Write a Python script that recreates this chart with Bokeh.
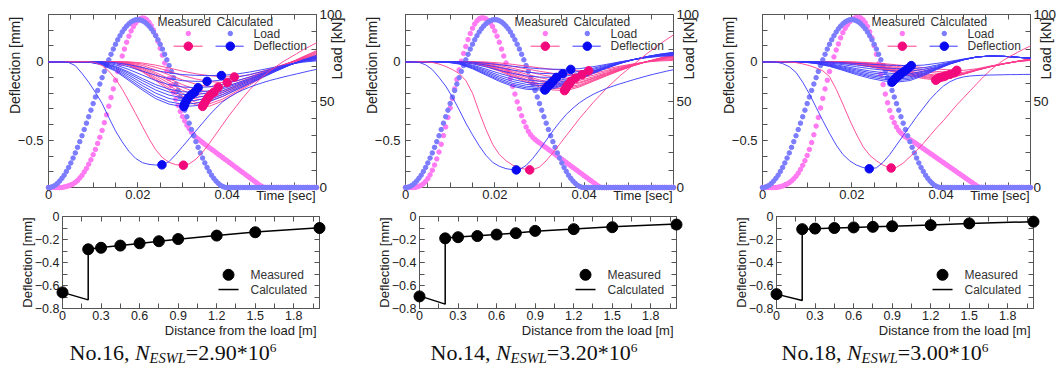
import numpy as np
from bokeh.plotting import figure
from bokeh.models import Range1d, LinearAxis, FixedTicker, Div
from bokeh.layouts import row, column
from bokeh.embed import file_html
from bokeh.resources import INLINE
from bokeh.core.properties import value

# ======================= DATA =======================
# load pulses, sampled every 0.0005 s from t = 0
CALC_LOAD = [0, 0.1, 0.6, 1.3, 2.4, 3.7, 5.3, 7.1, 9.3, 11.6, 14.2, 17.0, 20.0, 23.2, 26.5, 29.9, 33.5, 37.2, 40.9, 44.7,
             48.5, 52.3, 56.1, 59.8, 63.5, 67.1, 70.5, 73.8, 77.0, 80.0, 82.8, 85.4, 87.7, 89.9, 91.7, 93.3, 94.6, 95.7, 96.4, 96.9,
             97.0, 96.9, 96.4, 95.7, 94.6, 93.3, 91.7, 89.9, 87.7, 85.4, 82.8, 80.0, 77.0, 73.8, 70.5, 67.1, 63.5, 59.8, 56.1, 52.3,
             48.5, 44.7, 40.9, 37.2, 33.5, 29.9, 26.5, 23.2, 20.0, 17.0, 14.2, 11.6, 9.3, 7.1, 5.3, 3.7, 2.4, 1.3, 0.6, 0.1,
             0, 0, 0, 0, 0, 0, 0, 0, 0, 0, 0, 0, 0, 0, 0, 0, 0, 0, 0, 0,
             0, 0, 0, 0, 0, 0, 0, 0, 0, 0, 0, 0, 0, 0, 0, 0, 0, 0, 0, 0, 0]
MEAS_LOAD_16 = [0, 0, 0, 0, 0, 0, 0, 0.3, 0.6, 1, 1.5, 2, 3, 4, 5.5, 7, 9, 11, 13.5, 16,
                19, 22, 25.5, 29, 33, 37.5, 42, 47, 52, 57, 62, 67, 71.5, 76, 80, 84, 87.5, 90.5, 93, 95,
                96.5, 97.5, 98, 97.8, 97, 95.5, 93.5, 91, 88, 84.5, 80.5, 76.5, 72, 67.5, 63, 59, 55, 51, 47.5, 44,
                41, 38.5, 36, 34, 32, 30.5, 29, 28, 27, 26, 25, 24, 23, 22.1, 21.2, 20.2, 19.2, 18.3, 17.3, 16.3,
                15.4, 14.4, 13.5, 12.5, 11.5, 10.6, 9.6, 8.7, 7.7, 6.7, 5.8, 4.8, 3.8, 2.9, 1.9, 1.0, 0.3, 0, 0, 0,
                0, 0, 0, 0, 0, 0, 0, 0, 0, 0, 0, 0, 0, 0, 0, 0, 0, 0, 0, 0, 0]
MEAS_LOAD_14 = [0, 0, 0, 0, 0, 0.3, 0.7, 1.3, 2.2, 3.5, 5.2, 7.3, 10, 13, 16.5, 20.5, 25, 30, 35, 40.5,
                46, 51.5, 57, 62.5, 68, 73, 77.5, 81.5, 85.5, 89, 92, 94.5, 96.3, 97.5, 98, 98, 97.5, 96.5, 95, 93,
                90.5, 87.5, 84, 80, 76, 72, 67.5, 63, 58.5, 54, 49.5, 45.5, 41.5, 38, 35, 32.5, 30.5, 29, 27.8, 26.7,
                25.8, 24.9, 23.9, 23, 22, 21.1, 20.1, 19.2, 18.2, 17.3, 16.3, 15.4, 14.4, 13.5, 12.5, 11.6, 10.6, 9.7, 8.7, 7.8,
                6.8, 5.9, 4.9, 4, 3, 2.1, 1.1, 0.3, 0, 0, 0, 0, 0, 0, 0, 0, 0, 0, 0, 0,
                0, 0, 0, 0, 0, 0, 0, 0, 0, 0, 0, 0, 0, 0, 0, 0, 0, 0, 0, 0, 0]
MEAS_LOAD_18 = [0, 0, 0, 0, 0, 0, 0, 0.2, 0.5, 0.9, 1.4, 2, 2.8, 3.8, 5, 6.5, 8.3, 10.4, 12.8, 15.5,
                18.5, 22, 26, 30.5, 35.5, 40.5, 46, 51.5, 57, 62, 67, 71.5, 75.5, 79.5, 83, 86.5, 89.5, 92, 94, 95.7,
                97, 97.8, 98.2, 98.3, 98, 97, 95.3, 93, 90, 86.5, 82, 77, 71.5, 65.5, 59.5, 54, 49, 44.5, 40.5, 37.5,
                35, 33, 31.5, 30.3, 29.3, 28.5, 27.7, 26.9, 26.1, 25.2, 24.3, 23.4, 22.5, 21.6, 20.7, 19.8, 18.9, 18, 17.1, 16.2,
                15.3, 14.4, 13.5, 12.6, 11.7, 10.8, 9.9, 9, 8.1, 7.2, 6.3, 5.4, 4.5, 3.6, 2.7, 1.8, 0.9, 0.2, 0, 0,
                0, 0, 0, 0, 0, 0, 0, 0, 0, 0, 0, 0, 0, 0, 0, 0, 0, 0, 0, 0, 0]

# deflection histories under the load (sensor at 0 m), sampled every 0.0015 s
T_S0 = [0, 0.0015, 0.003, 0.0045, 0.006, 0.0075, 0.009, 0.0105, 0.012, 0.0135, 0.015, 0.0165, 0.018, 0.0195,
        0.021, 0.0225, 0.024, 0.0255, 0.027, 0.0285, 0.03, 0.0315, 0.033, 0.0345, 0.036, 0.0375, 0.039, 0.0405,
        0.042, 0.0435, 0.045, 0.0465, 0.048, 0.0495, 0.051, 0.0525, 0.054, 0.0555, 0.057, 0.0585, 0.06]
S0_CALC_16 = [0, 0, 0, -0.005, -0.025, -0.075, -0.13, -0.195, -0.265, -0.355, -0.44, -0.51, -0.57, -0.615, -0.642,
              -0.653, -0.657, -0.656, -0.635, -0.59, -0.54, -0.49, -0.44, -0.39, -0.34, -0.295, -0.255, -0.225, -0.2,
              -0.18, -0.162, -0.147, -0.133, -0.12, -0.109, -0.098, -0.088, -0.078, -0.068, -0.058, -0.049]
S0_MEAS_16 = [0, 0, 0, 0, 0, 0, 0, -0.005, -0.025, -0.06, -0.11, -0.175, -0.25, -0.33, -0.41, -0.49, -0.56, -0.61,
              -0.64, -0.655, -0.658, -0.65, -0.62, -0.575, -0.52, -0.46, -0.4, -0.34, -0.285, -0.23, -0.18, -0.135,
              -0.095, -0.06, -0.03, 0.0, 0.025, 0.05, 0.075, 0.098, 0.12]
S0_CALC_14 = [0, 0, -0.004, -0.02, -0.05, -0.1, -0.155, -0.225, -0.305, -0.39, -0.465, -0.535, -0.595, -0.64, -0.665,
              -0.68, -0.687, -0.686, -0.66, -0.615, -0.56, -0.5, -0.44, -0.385, -0.335, -0.295, -0.26, -0.232, -0.208,
              -0.188, -0.17, -0.155, -0.141, -0.128, -0.115, -0.103, -0.091, -0.08, -0.07, -0.06, -0.051]
S0_MEAS_14 = [0, 0, 0, 0, -0.005, -0.015, -0.03, -0.05, -0.075, -0.12, -0.2, -0.32, -0.43, -0.525, -0.59, -0.63,
              -0.658, -0.675, -0.685, -0.687, -0.67, -0.63, -0.58, -0.525, -0.47, -0.415, -0.36, -0.31, -0.26, -0.215,
              -0.17, -0.13, -0.09, -0.055, -0.02, 0.015, 0.05, 0.082, 0.113, 0.142, 0.17]
S0_CALC_18 = [0, 0, -0.002, -0.012, -0.032, -0.068, -0.13, -0.205, -0.29, -0.375, -0.455, -0.53, -0.59, -0.63, -0.657,
              -0.673, -0.68, -0.675, -0.64, -0.59, -0.53, -0.47, -0.41, -0.35, -0.295, -0.24, -0.195, -0.155, -0.127,
              -0.108, -0.097, -0.091, -0.088, -0.086, -0.085, -0.084, -0.083, -0.082, -0.082, -0.081, -0.081]
S0_MEAS_18 = [0, 0, 0, 0, -0.002, -0.006, -0.014, -0.025, -0.04, -0.058, -0.095, -0.175, -0.27, -0.37, -0.46, -0.54,
              -0.595, -0.63, -0.658, -0.675, -0.672, -0.645, -0.605, -0.565, -0.52, -0.47, -0.42, -0.375, -0.325,
              -0.275, -0.23, -0.185, -0.14, -0.095, -0.055, -0.02, 0.01, 0.035, 0.058, 0.08, 0.1]

# deflection histories of the other sensors (0.2 ... 2.0 m), sampled every 0.003 s
T_FAN = [0, 0.003, 0.006, 0.009, 0.012, 0.015, 0.018, 0.021, 0.024, 0.027, 0.03, 0.033, 0.036, 0.039, 0.042,
         0.045, 0.048, 0.051, 0.054, 0.057, 0.06]
FAN_CALC_16 = [
    [0, 0, 0, -0.003, -0.02, -0.06, -0.12, -0.18, -0.235, -0.27, -0.285, -0.28, -0.255, -0.22, -0.18, -0.14, -0.1, -0.06, -0.022, 0.012, 0.04],
    [0, 0, 0, -0.002, -0.017, -0.054, -0.11, -0.168, -0.22, -0.255, -0.27, -0.265, -0.242, -0.209, -0.172, -0.134, -0.096, -0.058, -0.022, 0.01, 0.036],
    [0, 0, 0, -0.002, -0.014, -0.047, -0.098, -0.152, -0.2, -0.234, -0.25, -0.247, -0.227, -0.197, -0.162, -0.127, -0.091, -0.055, -0.021, 0.009, 0.032],
    [0, 0, 0, -0.001, -0.011, -0.04, -0.086, -0.136, -0.18, -0.213, -0.229, -0.229, -0.212, -0.185, -0.153, -0.12, -0.086, -0.052, -0.02, 0.008, 0.028],
    [0, 0, 0, -0.001, -0.009, -0.034, -0.075, -0.12, -0.162, -0.193, -0.208, -0.21, -0.197, -0.173, -0.144, -0.113, -0.081, -0.05, -0.019, 0.006, 0.024],
    [0, 0, 0, 0, -0.007, -0.029, -0.066, -0.107, -0.146, -0.175, -0.191, -0.195, -0.185, -0.164, -0.137, -0.108, -0.078, -0.048, -0.019, 0.005, 0.021],
    [0, 0, 0, 0, -0.004, -0.02, -0.05, -0.085, -0.12, -0.146, -0.161, -0.165, -0.16, -0.144, -0.122, -0.098, -0.072, -0.045, -0.018, 0.003, 0.016],
    [0, 0, 0, 0, -0.002, -0.012, -0.033, -0.06, -0.087, -0.108, -0.121, -0.125, -0.125, -0.116, -0.1, -0.082, -0.062, -0.04, -0.017, 0.001, 0.011],
    [0, 0, 0, 0, 0, -0.006, -0.019, -0.037, -0.056, -0.071, -0.082, -0.087, -0.088, -0.087, -0.079, -0.066, -0.05, -0.033, -0.016, -0.003, 0.005],
]
FAN_MEAS_16 = [
    [0, 0, 0, 0, 0, -0.005, -0.025, -0.065, -0.12, -0.18, -0.235, -0.275, -0.283, -0.25, -0.2, -0.148, -0.097, -0.05, -0.008, 0.032, 0.07],
    [0, 0, 0, 0, 0, -0.004, -0.022, -0.06, -0.112, -0.168, -0.22, -0.259, -0.268, -0.238, -0.19, -0.141, -0.093, -0.048, -0.008, 0.029, 0.064],
    [0, 0, 0, 0, 0, -0.003, -0.019, -0.054, -0.102, -0.153, -0.202, -0.238, -0.248, -0.222, -0.178, -0.132, -0.087, -0.045, -0.007, 0.026, 0.058],
    [0, 0, 0, 0, 0, -0.002, -0.016, -0.047, -0.09, -0.137, -0.182, -0.216, -0.229, -0.208, -0.167, -0.124, -0.082, -0.042, -0.007, 0.023, 0.051],
    [0, 0, 0, 0, 0, -0.002, -0.013, -0.04, -0.079, -0.122, -0.163, -0.195, -0.209, -0.194, -0.157, -0.117, -0.077, -0.04, -0.006, 0.021, 0.045],
    [0, 0, 0, 0, 0, -0.001, -0.01, -0.034, -0.069, -0.108, -0.146, -0.177, -0.193, -0.185, -0.151, -0.113, -0.075, -0.039, -0.006, 0.019, 0.04],
    [0, 0, 0, 0, 0, 0, -0.006, -0.024, -0.052, -0.084, -0.116, -0.143, -0.159, -0.161, -0.138, -0.104, -0.07, -0.037, -0.006, 0.015, 0.031],
    [0, 0, 0, 0, 0, 0, -0.003, -0.015, -0.036, -0.061, -0.088, -0.11, -0.126, -0.133, -0.125, -0.097, -0.066, -0.035, -0.006, 0.011, 0.022],
    [0, 0, 0, 0, 0, 0, -0.001, -0.008, -0.022, -0.04, -0.06, -0.077, -0.089, -0.096, -0.096, -0.084, -0.06, -0.033, -0.007, 0.006, 0.012],
]
FAN_CALC_14 = [
    [0, 0, 0, -0.002, -0.015, -0.045, -0.085, -0.125, -0.157, -0.175, -0.18, -0.172, -0.145, -0.11, -0.075, -0.042, -0.012, 0.013, 0.033, 0.048, 0.06],
    [0, 0, 0, -0.002, -0.013, -0.041, -0.079, -0.117, -0.148, -0.166, -0.172, -0.165, -0.14, -0.106, -0.072, -0.04, -0.011, 0.013, 0.032, 0.047, 0.058],
    [0, 0, 0, -0.001, -0.011, -0.037, -0.072, -0.108, -0.138, -0.156, -0.163, -0.158, -0.134, -0.102, -0.069, -0.038, -0.01, 0.013, 0.031, 0.046, 0.056],
    [0, 0, 0, -0.001, -0.009, -0.032, -0.064, -0.098, -0.126, -0.144, -0.152, -0.149, -0.127, -0.097, -0.066, -0.036, -0.009, 0.013, 0.031, 0.045, 0.054],
    [0, 0, 0, 0, -0.007, -0.027, -0.056, -0.087, -0.113, -0.131, -0.14, -0.139, -0.12, -0.092, -0.062, -0.034, -0.008, 0.013, 0.03, 0.043, 0.051],
    [0, 0, 0, 0, -0.005, -0.022, -0.047, -0.074, -0.098, -0.115, -0.124, -0.125, -0.11, -0.085, -0.058, -0.031, -0.007, 0.013, 0.029, 0.041, 0.048],
    [0, 0, 0, 0, -0.003, -0.014, -0.033, -0.055, -0.075, -0.09, -0.098, -0.1, -0.092, -0.073, -0.05, -0.027, -0.005, 0.013, 0.028, 0.039, 0.045],
    [0, 0, 0, 0, -0.001, -0.008, -0.021, -0.037, -0.053, -0.066, -0.074, -0.077, -0.074, -0.061, -0.042, -0.022, -0.003, 0.013, 0.027, 0.037, 0.042],
    [0, 0, 0, 0, 0, -0.003, -0.01, -0.019, -0.029, -0.038, -0.045, -0.048, -0.049, -0.044, -0.032, -0.017, -0.001, 0.013, 0.025, 0.034, 0.038],
]
FAN_MEAS_14 = [
    [0, 0, 0, 0, -0.002, -0.01, -0.03, -0.06, -0.095, -0.13, -0.16, -0.18, -0.184, -0.16, -0.125, -0.09, -0.057, -0.027, 0.0, 0.024, 0.045],
    [0, 0, 0, 0, -0.002, -0.009, -0.027, -0.055, -0.088, -0.121, -0.15, -0.169, -0.174, -0.153, -0.12, -0.086, -0.054, -0.025, 0.0, 0.022, 0.042],
    [0, 0, 0, 0, -0.001, -0.008, -0.024, -0.05, -0.081, -0.112, -0.14, -0.159, -0.164, -0.146, -0.115, -0.083, -0.052, -0.024, 0.0, 0.021, 0.039],
    [0, 0, 0, 0, -0.001, -0.006, -0.02, -0.044, -0.072, -0.1, -0.126, -0.144, -0.15, -0.136, -0.108, -0.078, -0.049, -0.022, 0.0, 0.019, 0.035],
    [0, 0, 0, 0, 0, -0.005, -0.017, -0.038, -0.064, -0.091, -0.116, -0.133, -0.14, -0.13, -0.104, -0.075, -0.047, -0.021, 0.0, 0.017, 0.031],
    [0, 0, 0, 0, 0, -0.004, -0.014, -0.032, -0.055, -0.079, -0.101, -0.118, -0.125, -0.119, -0.097, -0.07, -0.044, -0.02, 0.0, 0.015, 0.027],
    [0, 0, 0, 0, 0, -0.002, -0.009, -0.024, -0.042, -0.062, -0.081, -0.096, -0.104, -0.104, -0.087, -0.063, -0.04, -0.018, 0.0, 0.012, 0.021],
    [0, 0, 0, 0, 0, -0.001, -0.005, -0.016, -0.03, -0.046, -0.061, -0.074, -0.081, -0.083, -0.075, -0.056, -0.035, -0.016, -0.001, 0.009, 0.015],
    [0, 0, 0, 0, 0, 0, -0.002, -0.008, -0.017, -0.028, -0.039, -0.049, -0.055, -0.058, -0.058, -0.046, -0.029, -0.014, -0.002, 0.005, 0.008],
]
FAN_CALC_18 = [
    [0, 0, 0, -0.002, -0.012, -0.03, -0.055, -0.082, -0.105, -0.122, -0.13, -0.12, -0.09, -0.05, -0.015, 0.012, 0.03, 0.036, 0.034, 0.028, 0.022],
    [0, 0, 0, -0.002, -0.011, -0.027, -0.05, -0.075, -0.096, -0.112, -0.12, -0.112, -0.084, -0.047, -0.014, 0.012, 0.03, 0.036, 0.034, 0.028, 0.022],
    [0, 0, 0, -0.001, -0.009, -0.024, -0.045, -0.068, -0.088, -0.102, -0.11, -0.104, -0.078, -0.044, -0.013, 0.012, 0.03, 0.036, 0.034, 0.028, 0.022],
    [0, 0, 0, -0.001, -0.008, -0.021, -0.04, -0.06, -0.079, -0.093, -0.1, -0.096, -0.073, -0.041, -0.012, 0.012, 0.03, 0.036, 0.034, 0.028, 0.022],
    [0, 0, 0, 0, -0.006, -0.017, -0.034, -0.052, -0.069, -0.081, -0.088, -0.086, -0.066, -0.037, -0.01, 0.013, 0.03, 0.036, 0.034, 0.028, 0.022],
    [0, 0, 0, 0, -0.004, -0.013, -0.028, -0.044, -0.059, -0.07, -0.077, -0.077, -0.06, -0.034, -0.009, 0.013, 0.03, 0.036, 0.034, 0.028, 0.022],
    [0, 0, 0, 0, -0.002, -0.008, -0.019, -0.032, -0.044, -0.054, -0.059, -0.06, -0.05, -0.028, -0.006, 0.014, 0.03, 0.036, 0.034, 0.028, 0.022],
    [0, 0, 0, 0, -0.001, -0.005, -0.012, -0.021, -0.031, -0.039, -0.044, -0.045, -0.039, -0.022, -0.003, 0.015, 0.03, 0.036, 0.034, 0.028, 0.022],
    [0, 0, 0, 0, 0, -0.002, -0.006, -0.011, -0.016, -0.021, -0.024, -0.025, -0.022, -0.011, 0.002, 0.017, 0.03, 0.036, 0.034, 0.028, 0.022],
]
FAN_MEAS_18 = [
    [0, 0, 0, 0, 0, -0.002, -0.008, -0.018, -0.032, -0.05, -0.07, -0.09, -0.107, -0.117, -0.105, -0.08, -0.055, -0.033, -0.014, 0.002, 0.018],
    [0, 0, 0, 0, 0, -0.002, -0.007, -0.016, -0.029, -0.046, -0.065, -0.084, -0.1, -0.111, -0.102, -0.079, -0.054, -0.032, -0.014, 0.002, 0.017],
    [0, 0, 0, 0, 0, -0.001, -0.006, -0.014, -0.026, -0.042, -0.06, -0.078, -0.094, -0.105, -0.099, -0.078, -0.053, -0.032, -0.014, 0.002, 0.016],
    [0, 0, 0, 0, 0, -0.001, -0.005, -0.012, -0.023, -0.038, -0.055, -0.072, -0.088, -0.098, -0.096, -0.077, -0.052, -0.031, -0.013, 0.002, 0.015],
    [0, 0, 0, 0, 0, 0, -0.004, -0.01, -0.02, -0.034, -0.05, -0.066, -0.081, -0.092, -0.094, -0.078, -0.052, -0.031, -0.013, 0.002, 0.014],
    [0, 0, 0, 0, 0, 0, -0.003, -0.008, -0.017, -0.03, -0.045, -0.06, -0.075, -0.086, -0.089, -0.077, -0.052, -0.031, -0.013, 0.002, 0.013],
    [0, 0, 0, 0, 0, 0, -0.002, -0.006, -0.013, -0.024, -0.037, -0.05, -0.063, -0.073, -0.079, -0.075, -0.052, -0.031, -0.013, 0.001, 0.011],
    [0, 0, 0, 0, 0, 0, -0.001, -0.004, -0.01, -0.018, -0.029, -0.041, -0.052, -0.062, -0.069, -0.068, -0.05, -0.03, -0.013, 0.001, 0.01],
    [0, 0, 0, 0, 0, 0, 0, -0.002, -0.006, -0.012, -0.02, -0.029, -0.038, -0.046, -0.053, -0.055, -0.045, -0.028, -0.012, 0.0, 0.008],
]

# peak deflection markers (time [s], deflection [mm]); first entry = sensor at 0 m
PEAK_CALC_16 = ([0.0254, 0.0303, 0.0305, 0.0308, 0.0313, 0.032, 0.0327, 0.0335, 0.0355, 0.0387],
                [-0.656, -0.285, -0.27, -0.25, -0.23, -0.21, -0.195, -0.165, -0.125, -0.088])
PEAK_MEAS_16 = ([0.0302, 0.0345, 0.0348, 0.0352, 0.0357, 0.0363, 0.037, 0.038, 0.040, 0.0416],
                [-0.658, -0.284, -0.27, -0.25, -0.23, -0.21, -0.195, -0.162, -0.133, -0.097])
PEAK_CALC_14 = ([0.0248, 0.0312, 0.0314, 0.0317, 0.032, 0.0325, 0.033, 0.0338, 0.0352, 0.037],
                [-0.688, -0.18, -0.172, -0.163, -0.152, -0.14, -0.125, -0.1, -0.077, -0.049])
PEAK_MEAS_14 = ([0.0278, 0.0356, 0.0358, 0.036, 0.0363, 0.0367, 0.037, 0.038, 0.0395, 0.041],
                [-0.688, -0.184, -0.174, -0.164, -0.15, -0.14, -0.125, -0.105, -0.083, -0.058])
PEAK_CALC_18 = ([0.0239, 0.029, 0.0293, 0.0296, 0.03, 0.0305, 0.031, 0.0318, 0.0325, 0.0333],
                [-0.681, -0.13, -0.12, -0.11, -0.1, -0.088, -0.077, -0.06, -0.045, -0.025])
PEAK_MEAS_18 = ([0.0288, 0.0388, 0.039, 0.0393, 0.0398, 0.0405, 0.041, 0.042, 0.043, 0.0435],
                [-0.676, -0.118, -0.112, -0.106, -0.1, -0.095, -0.09, -0.08, -0.07, -0.055])

# deflection basins
DIST = [0, 0.2, 0.3, 0.45, 0.6, 0.75, 0.9, 1.2, 1.5, 2.0]
CALC_DIST = [0, 0.2, 0.2, 0.3, 0.45, 0.6, 0.75, 0.9, 1.2, 1.5, 2.0]
BASIN_MEAS_16 = [-0.66, -0.285, -0.272, -0.253, -0.233, -0.215, -0.196, -0.166, -0.137, -0.100]
BASIN_CALC_16 = [-0.66, -0.725, -0.285, -0.27, -0.252, -0.234, -0.216, -0.197, -0.165, -0.135, -0.098]
BASIN_MEAS_14 = [-0.695, -0.19, -0.18, -0.17, -0.157, -0.145, -0.125, -0.11, -0.093, -0.07]
BASIN_CALC_14 = [-0.69, -0.762, -0.187, -0.178, -0.168, -0.156, -0.144, -0.128, -0.109, -0.09, -0.066]
BASIN_MEAS_18 = [-0.675, -0.11, -0.105, -0.1, -0.095, -0.09, -0.085, -0.075, -0.06, -0.045]
BASIN_CALC_18 = [-0.675, -0.73, -0.112, -0.106, -0.1, -0.095, -0.09, -0.085, -0.074, -0.06, -0.045]

CASES = ["16", "14", "18"]
N_ESWL = ["2.90", "3.20", "3.00"]

# tick positions
T_MAJOR = [0, 0.02, 0.04]
T_MINOR = [0, 0.005, 0.01, 0.015, 0.02, 0.025, 0.03, 0.035, 0.04, 0.045, 0.05, 0.055, 0.06]
D_MAJOR = [-0.5, 0]
D_MINOR = [-0.8, -0.7, -0.6, -0.5, -0.4, -0.3, -0.2, -0.1, 0, 0.1, 0.2, 0.3]
L_MAJOR = [0, 50, 100]
L_MINOR = [0, 10, 20, 30, 40, 50, 60, 70, 80, 90, 100]
X_MAJOR = [0, 0.3, 0.6, 0.9, 1.2, 1.5, 1.8]
X_MINOR = [0, 0.15, 0.3, 0.45, 0.6, 0.75, 0.9, 1.05, 1.2, 1.35, 1.5, 1.65, 1.8, 1.95]
B_MAJOR = [-0.8, -0.6, -0.4, -0.2, 0]
B_MINOR = [-0.8, -0.7, -0.6, -0.5, -0.4, -0.3, -0.2, -0.1, 0]

# ======================= STYLE / LAYOUT =======================
FONT = "Liberation Sans"
AXC = "#555555"
TXT = "#222222"
PINK_LOAD = "#FF7AF2"
BLUE_LOAD = "#7C7CFF"
PINK_LINE = "#FF3D8E"
BLUE_LINE = "#3838FF"
PINK_DOT = "#F20A7C"
BLUE_DOT = "#0A0AF2"

COL_W = [365, 357, 341]
TOP_LEFT = [48, 40, 40]
BOT_LEFT = [62, 54, 54]
FRAME_W_TOP, FRAME_W_BOT = 268, 257
TOP_H, BOT_H, CAP_H = 205, 133, 26
LOAD_TITLE_X = [0.0645, 0.0634, 0.0634]
CAP_PAD = [19, 19, 15]


def style_axis(ax, fs, standoff):
    ax.axis_line_color = AXC
    ax.major_tick_line_color = AXC
    ax.minor_tick_line_color = AXC
    ax.major_tick_in = 5
    ax.major_tick_out = 0
    ax.minor_tick_in = 5
    ax.minor_tick_out = 0
    ax.major_label_text_font = FONT
    ax.major_label_text_color = TXT
    ax.major_label_text_font_size = fs
    ax.major_label_standoff = standoff


def mirror_axis(p, minor, where, range_name=None):
    kw = {"y_range_name": range_name} if range_name else {}
    ax = LinearAxis(ticker=FixedTicker(ticks=[], minor_ticks=minor), **kw)
    style_axis(ax, "12px", 0)
    p.add_layout(ax, where)


def title(p, x, y, text, size, angle=0.0, align="center"):
    p.text(x=[x], y=[y], text=[text], angle=angle, text_align=align, text_baseline="middle",
           text_font=value(FONT), text_font_size=size, text_color=TXT, level="overlay")


def top_figure(i, meas_load, s0m, s0c, fan_m, fan_c, pk_m, pk_c):
    w = COL_W[i]
    p = figure(width=w, height=TOP_H, x_range=Range1d(0, 0.06), y_range=Range1d(-0.8, 0.3),
               x_axis_location=None, y_axis_location=None, output_backend="svg", toolbar_location=None,
               min_border_left=TOP_LEFT[i], min_border_right=w - TOP_LEFT[i] - FRAME_W_TOP,
               min_border_top=14, min_border_bottom=18)
    p.extra_y_ranges = {"load": Range1d(0, 100)}
    p.grid.visible = False
    p.outline_line_color = AXC

    xb = LinearAxis(ticker=FixedTicker(ticks=T_MAJOR, minor_ticks=T_MINOR),
                    major_label_overrides={0: "0", 0.02: "0.02", 0.04: "0.04"})
    style_axis(xb, "13px", 2)
    p.add_layout(xb, "below")
    mirror_axis(p, T_MINOR, "above")
    yl = LinearAxis(ticker=FixedTicker(ticks=D_MAJOR, minor_ticks=D_MINOR),
                    major_label_overrides={-0.5: "\u22120.5", 0: "0"})
    style_axis(yl, "13px", 5)
    p.add_layout(yl, "left")
    yr = LinearAxis(y_range_name="load", ticker=FixedTicker(ticks=L_MAJOR, minor_ticks=L_MINOR))
    style_axis(yr, "13.5px", 3)
    p.add_layout(yr, "right")

    title(p, -0.0074, -0.024, "Deflection [mm]", "14px", angle=np.pi / 2)
    title(p, LOAD_TITLE_X[i], 0.084, "Load [kN]", "14.5px", angle=np.pi / 2)
    title(p, 0.0598, -0.851, "Time [sec]", "13px", align="right")

    # load pulses
    p.scatter(np.arange(len(meas_load)) * 0.0005, meas_load, y_range_name="load", size=4.5,
              color=PINK_LOAD, level="annotation")
    p.scatter(np.arange(len(CALC_LOAD)) * 0.0005, CALC_LOAD, y_range_name="load", size=4.5,
              color=BLUE_LOAD, level="annotation")
    # deflection histories
    for ys in fan_m:
        p.line(T_FAN[:len(ys)], ys, line_color=PINK_LINE, line_width=0.9, level="overlay")
    for ys in fan_c:
        p.line(T_FAN[:len(ys)], ys, line_color=BLUE_LINE, line_width=0.9, level="overlay")
    p.line(T_S0[:len(s0m)], s0m, line_color=PINK_LINE, line_width=0.9, level="overlay")
    p.line(T_S0[:len(s0c)], s0c, line_color=BLUE_LINE, line_width=0.9, level="overlay")
    p.scatter(pk_m[0], pk_m[1], size=8.5, color=PINK_DOT, level="overlay")
    p.scatter(pk_c[0], pk_c[1], size=8.5, color=BLUE_DOT, level="overlay")

    # legend block
    p.text(x=[0.0244, 0.0376], y=[0.251, 0.251], text=["Measured", "Calculated"],
           text_font=value(FONT), text_font_size="12px", text_color="#333333",
           text_align="left", text_baseline="middle", level="overlay")
    p.text(x=[0.0459, 0.0459], y=[0.179, 0.0985], text=["Load", "Deflection"],
           text_font=value(FONT), text_font_size="12px", text_color="#333333",
           text_align="left", text_baseline="middle", level="overlay")
    p.scatter([0.0313], [0.179], size=4.5, color=PINK_LOAD, level="overlay")
    p.scatter([0.0407], [0.179], size=4.5, color=BLUE_LOAD, level="overlay")
    p.line([0.028, 0.0345], [0.0985, 0.0985], line_color=PINK_LINE, line_width=1, level="overlay")
    p.line([0.0374, 0.0437], [0.0985, 0.0985], line_color=BLUE_LINE, line_width=1, level="overlay")
    p.scatter([0.0313], [0.0985], size=8.5, color=PINK_DOT, level="overlay")
    p.scatter([0.0407], [0.0985], size=8.5, color=BLUE_DOT, level="overlay")
    return p


def bottom_figure(i, meas, calc):
    w = COL_W[i]
    p = figure(width=w, height=BOT_H, x_range=Range1d(0, 2.0), y_range=Range1d(-0.8, 0),
               x_axis_location=None, y_axis_location=None, output_backend="svg", toolbar_location=None,
               min_border_left=BOT_LEFT[i], min_border_right=w - BOT_LEFT[i] - FRAME_W_BOT,
               min_border_top=11, min_border_bottom=30)
    p.grid.visible = False
    p.outline_line_color = AXC
    xb = LinearAxis(ticker=FixedTicker(ticks=X_MAJOR, minor_ticks=X_MINOR),
                    major_label_overrides={0: "0", 0.3: "0.3", 0.6: "0.6", 0.9: "0.9", 1.2: "1.2", 1.5: "1.5", 1.8: "1.8"})
    style_axis(xb, "12.5px", 2)
    p.add_layout(xb, "below")
    mirror_axis(p, X_MINOR, "above")
    yl = LinearAxis(ticker=FixedTicker(ticks=B_MAJOR, minor_ticks=B_MINOR),
                    major_label_overrides={-0.8: "\u22120.8", -0.6: "\u22120.6", -0.4: "\u22120.4", -0.2: "\u22120.2", 0: "0"})
    style_axis(yl, "12.5px", 3)
    p.add_layout(yl, "left")
    mirror_axis(p, B_MINOR, "right")

    title(p, -0.272, -0.4, "Deflection [mm]", "13px", angle=np.pi / 2)
    title(p, 1.977, -0.991, "Distance from the load [m]", "13px", align="right")

    p.line(CALC_DIST, calc, line_color="black", line_width=1.5, level="overlay")
    p.scatter(DIST, meas, size=11, color="black", level="overlay")

    # legend
    p.scatter([1.292], [-0.507], size=11, color="black", level="overlay")
    p.line([1.214, 1.370], [-0.635, -0.635], line_color="black", line_width=1.5, level="overlay")
    p.text(x=[1.463, 1.463], y=[-0.507, -0.635], text=["Measured", "Calculated"],
           text_font=value(FONT), text_font_size="12px", text_color="#333333",
           text_align="left", text_baseline="middle", level="overlay")
    return p


def caption(i):
    inner_w = COL_W[i] - CAP_PAD[i]
    html = ('<div style="display:block;width:%dpx;font-family:\'Liberation Serif\',serif;font-size:22px;'
            'line-height:26px;white-space:nowrap;text-align:center;position:relative;top:2px;color:#111">'
            'No.%s, <i>N<sub style="font-size:14.5px;line-height:0;vertical-align:-3px">ESWL</sub></i>=%s*10'
            '<sup style="font-size:13.5px;line-height:0;vertical-align:8px">6</sup></div>') % (inner_w, CASES[i], N_ESWL[i])
    return Div(text=html, width=COL_W[i], height=CAP_H, margin=0)


tops = [
    top_figure(0, MEAS_LOAD_16, S0_MEAS_16, S0_CALC_16, FAN_MEAS_16, FAN_CALC_16, PEAK_MEAS_16, PEAK_CALC_16),
    top_figure(1, MEAS_LOAD_14, S0_MEAS_14, S0_CALC_14, FAN_MEAS_14, FAN_CALC_14, PEAK_MEAS_14, PEAK_CALC_14),
    top_figure(2, MEAS_LOAD_18, S0_MEAS_18, S0_CALC_18, FAN_MEAS_18, FAN_CALC_18, PEAK_MEAS_18, PEAK_CALC_18),
]
bots = [
    bottom_figure(0, BASIN_MEAS_16, BASIN_CALC_16),
    bottom_figure(1, BASIN_MEAS_14, BASIN_CALC_14),
    bottom_figure(2, BASIN_MEAS_18, BASIN_CALC_18),
]
caps = [caption(0), caption(1), caption(2)]

layout = column(row(*tops, spacing=0), row(*bots, spacing=0), row(*caps, spacing=0), spacing=0)
open("out.html", "w").write(file_html(layout, INLINE))
